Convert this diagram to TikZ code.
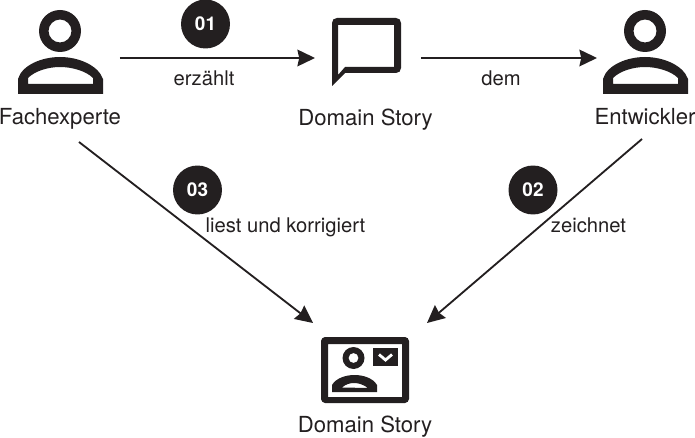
\documentclass[tikz,border=0pt]{standalone}
\usepackage{fontspec}
\setmainfont{TeX Gyre Heros}
\usepackage{xcolor}
\usetikzlibrary{arrows.meta}
\definecolor{cInk}{HTML}{231F20}
\tikzset{
  iconbox/.style={inner sep=0pt, outer sep=0pt, minimum height=1.6cm},
  actor/.style={anchor=base, inner sep=0pt, font=\fontsize{12.6pt}{14pt}\selectfont, text=cInk},
  verb/.style={anchor=base, inner sep=0pt, font=\fontsize{11.5pt}{14pt}\selectfont, text=cInk},
  badge/.style={circle, fill=cInk, text=white, inner sep=0pt, minimum size=0.98cm, font=\fontsize{10.8pt}{12pt}\selectfont\bfseries},
  flow/.style={line width=1.05pt, cInk, -{Stealth[length=10pt, width=9.5pt, inset=1pt]}},
  glyph/.style={fill=cInk, even odd rule},
}
\newcommand{\personicon}[2]{
  \begin{scope}[shift={(#1,#2)}]
    \fill[glyph] (0,-63) circle (21) (0,-63) circle (11.5);
    \fill[glyph] (-42,0) -- (-42,-15) .. controls (-38,-29) and (-18,-37) .. (0,-37) .. controls (18,-37) and (38,-29) .. (43,-15) -- (43,0) -- cycle
      (-32,-10) -- (-32,-16) .. controls (-25,-23) and (-12,-27) .. (0,-27) .. controls (12,-27) and (26,-23) .. (33,-16) -- (33,-10) -- cycle;
  \end{scope}
}
\begin{document}
\begin{tikzpicture}[x=0.02cm, y=-0.02cm]
\useasboundingbox (0,0) rectangle (695,438);
% top row
\personicon{60}{94}
\fill[glyph] (332,23) .. controls (332,20) and (334,18) .. (337,18) -- (396,18) .. controls (399,18) and (401,20) .. (401,23) -- (401,68) .. controls (401,71) and (399,73) .. (396,73) -- (345,73) -- (332,86) -- cycle
  (338,25) -- (394,25) -- (394,67) -- (345,67) -- (338,75) -- cycle;
\personicon{645}{94}
\node[iconbox, minimum width=2.4cm] (fachexperte) at (60,58) {};
\node[iconbox, minimum width=2.12cm] (story) at (368,58) {};
\node[iconbox, minimum width=1.92cm] (entwickler) at (645,58) {};
\node[actor] (fachLabel) at (60,124.5) {Fachexperte};
\node[actor] (storyLabel) at (365.5,126) {Domain Story};
\node[actor] (entLabel) at (645,124.5) {Entwickler};
% bottom icon
\fill[glyph] (325,337) -- (405,337) .. controls (407,337) and (409,339) .. (409,341) -- (409,399) .. controls (409,401) and (407,403) .. (405,403) -- (325,403) .. controls (323,403) and (321,401) .. (321,399) -- (321,341) .. controls (321,339) and (323,337) .. (325,337) -- cycle
  (328,344) -- (402,344) -- (402,397) -- (328,397) -- cycle;
\fill[glyph] (353.5,358) circle (11) (353.5,358) circle (5);
\fill[glyph] (332,392) -- (332,385) .. controls (336,378) and (346,375) .. (354.5,375) .. controls (363,375) and (373,378) .. (377,385) -- (377,392) -- cycle
  (342,387.5) .. controls (346,384) and (350,383) .. (354.5,383) .. controls (359,383) and (364,385) .. (368,388) -- cycle;
\fill[cInk] (373,348) rectangle (398,366);
\draw[white, line width=1.6pt] (379,354.5) -- (385.5,360) -- (392,354.5);
\node[iconbox, minimum width=2.28cm] (domain) at (370,363) {};
\node[actor] (domainLabel) at (365,432) {Domain Story};
% connectors
\coordinate (fachStart) at (79,142);
\coordinate (entStart) at (642,139);
\draw[flow] (fachexperte.east) -- (story.west);
\draw[flow] (story.east) -- (entwickler.west);
\draw[flow] (fachStart) -- (domain.north west);
\draw[flow] (entStart) -- (domain.north east);
% badges and verbs
\node[badge] (b1) at (205.5,24) {01};
\node[badge] (b2) at (533,190) {02};
\node[badge] (b3) at (197.5,190) {03};
\node[verb] (v1) at (204,86) {erzählt};
\node[verb] (v2) at (501,86) {dem};
\node[verb] (v3) at (285.5,233) {liest und korrigiert};
\node[verb] (v4) at (588.5,233) {zeichnet};
\end{tikzpicture}
\end{document}
